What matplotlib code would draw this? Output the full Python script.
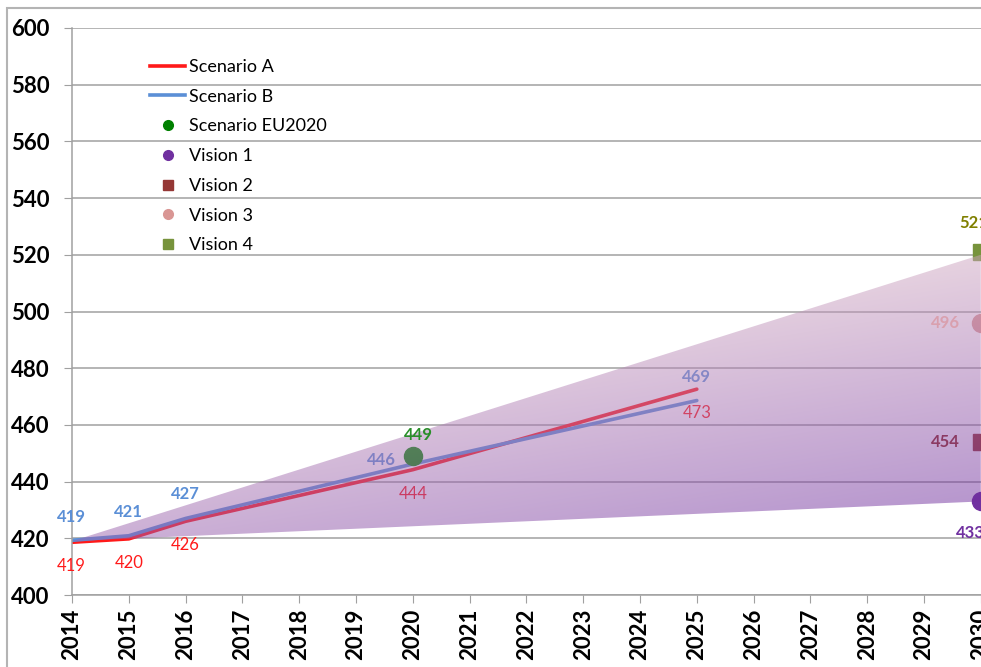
import matplotlib
matplotlib.use('Agg')
import matplotlib.pyplot as plt
import numpy as np
from matplotlib.patches import Polygon, Rectangle
from matplotlib.lines import Line2D

# ---- data ----
years_line = [2014, 2015, 2016, 2020, 2025]
scen_a = [418.6, 419.8, 426.0, 444.2, 472.6]
scen_b = [419.3, 420.9, 427.0, 446.2, 468.6]
eu2020_year = 2020
eu2020_val = 449
vision_year = 2030
vision_names = ['Vision 1', 'Vision 2', 'Vision 3', 'Vision 4']
vision_vals = [433, 454, 496, 521]
band_x = [2014, 2030, 2030]
band_y = [419, 520, 433]
xticks = list(range(2014, 2031))
yticks = list(range(400, 601, 20))

FONT = 'Lato'
plt.rcParams['font.family'] = [FONT, 'DejaVu Sans']

W, H = 981, 667
fig = plt.figure(figsize=(W / 100, H / 100), dpi=100)
px_per_year = 56.8
left_px, bottom_px, top_px = 72, 595, 28
x_max = 2031
ax = fig.add_axes([left_px / W, (H - bottom_px) / H,
                   (x_max - 2014) * px_per_year / W, (bottom_px - top_px) / H])
ax.set_xlim(2014, x_max)
ax.set_ylim(400, 600)

# figure border
fig.patches.append(Rectangle((7 / W, -0.1), 1.2, (H - 8) / H + 0.1, transform=fig.transFigure,
                             fill=False, edgecolor='#b4b4b4', lw=1.5, zorder=0))

grid_c = '#a0a0a0'
ax.set_yticks(yticks)
ax.set_xticks(xticks)
ax.grid(axis='y', color=grid_c, lw=1.1, zorder=0)
ax.set_axisbelow(True)
for s in ['top', 'right']:
    ax.spines[s].set_visible(False)
for s in ['left', 'bottom']:
    ax.spines[s].set_color(grid_c)
    ax.spines[s].set_linewidth(1.1)
ax.tick_params(axis='y', length=6, color=grid_c, labelsize=16, pad=10)
ax.tick_params(axis='x', length=6, color=grid_c, labelsize=16, pad=4, rotation=90)
for lab in ax.get_yticklabels() + ax.get_xticklabels():
    lab.set_fontweight('bold')

red = '#ff1a1a'
blue = '#5b8fd6'
ax.plot(years_line, scen_a, color=red, lw=2.6, zorder=2, solid_capstyle='round')
ax.plot(years_line, scen_b, color=blue, lw=2.6, zorder=2, solid_capstyle='round')

# markers
ax.plot([eu2020_year], [eu2020_val], 'o', color='#008a00', ms=13, zorder=3)
v_styles = [('o', '#7030a0', 13), ('s', '#953735', 12), ('o', '#d99694', 13), ('s', '#77933c', 12)]
for v, (m, c, s) in zip(vision_vals, v_styles):
    ax.plot([vision_year], [v], m, color=c, ms=s, zorder=3, clip_on=False)

# data labels
k = 0.72
lab_fs = 12
b_off = [(-1, 23), (0, 24), (0, 24), (-31, 4), (0, 24)]
r_off = [(-1, -24), (0, -24), (0, -24), (0, -24), (0, -24)]
for x, y, o in zip(years_line, scen_b, b_off):
    ax.annotate(f'{round(y)}', (x, y), xytext=(o[0] * k, o[1] * k), textcoords='offset points',
                ha='center', va='center', color=blue, fontsize=lab_fs, fontweight='bold', zorder=3)
for x, y, o in zip(years_line, scen_a, r_off):
    ax.annotate(f'{round(y)}', (x, y), xytext=(o[0] * k, o[1] * k), textcoords='offset points',
                ha='center', va='center', color=red, fontsize=lab_fs, zorder=3)
ax.annotate(f'{eu2020_val}', (eu2020_year, eu2020_val), xytext=(6 * k, 21 * k), textcoords='offset points',
            ha='center', va='center', color='#2a8f2a', fontsize=lab_fs, fontweight='bold', zorder=5)
v_lab = [((-10, -32), '#7030a0'), ((-35, 0), '#8b3a63'), ((-35, 0), '#d9a0ae'), ((-7, 29), '#808000')]
for v, (o, c) in zip(vision_vals, v_lab):
    ax.annotate(f'{v}', (vision_year, v), xytext=(o[0] * k, o[1] * k), textcoords='offset points',
                ha='center', va='center', color=c, fontsize=lab_fs, fontweight='bold', zorder=5,
                annotation_clip=False)

# gradient band (light at the top-right, purple towards the bottom), drawn over the series
ny, nx = 240, 240
X, Y = np.meshgrid(np.linspace(0, 1, nx), np.linspace(0, 1, ny))
s_diag = np.clip(((X - Y + 1) / 2 - 0.47) / 0.46, 0, 1)
t = np.clip(0.5 * (1 - Y) + 0.5 * s_diag, 0, 1)[..., None]
c_light = np.array([209, 169, 193]) / 255
c_dark = np.array([105, 37, 155]) / 255
rgb = c_light * (1 - t) + c_dark * t
img = np.dstack([rgb, np.full((ny, nx, 1), 0.5)])
poly = Polygon(list(zip(band_x, band_y)), closed=True, facecolor='none', edgecolor='none')
ax.add_patch(poly)
im = ax.imshow(img, extent=[min(band_x), max(band_x), min(band_y), max(band_y)], origin='lower',
               aspect='auto', zorder=4, interpolation='bilinear')
im.set_clip_path(poly)

# legend
handles = [Line2D([], [], color=red, lw=2.6),
           Line2D([], [], color=blue, lw=2.6),
           Line2D([], [], ls='', marker='o', color='#008000', ms=7),
           Line2D([], [], ls='', marker='o', color='#7030a0', ms=7),
           Line2D([], [], ls='', marker='s', color='#953735', ms=6.5),
           Line2D([], [], ls='', marker='o', color='#d99694', ms=7),
           Line2D([], [], ls='', marker='s', color='#77933c', ms=6.5)]
labels = ['Scenario A', 'Scenario B', 'Scenario EU2020'] + vision_names
leg = fig.legend(handles, labels, loc='upper left', bbox_to_anchor=(150 / W, 1 - 59 / H),
                 frameon=False, fontsize=13, handlelength=1.95, handletextpad=0.22,
                 labelspacing=0.76, borderaxespad=0, borderpad=0)
leg.set_zorder(6)

fig.savefig('out.png', dpi=100)
